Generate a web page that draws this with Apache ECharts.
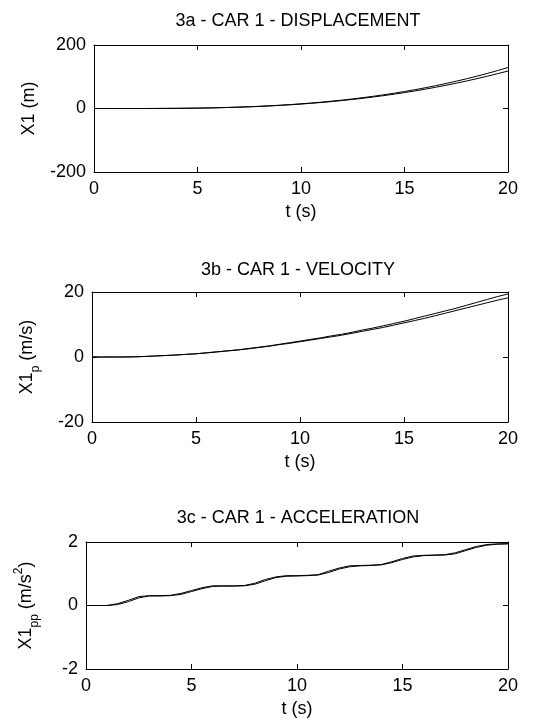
<!DOCTYPE html>
<html>
<head>
<meta charset="utf-8">
<script src="https://cdn.jsdelivr.net/npm/echarts@6/dist/echarts.min.js"></script>
<style>
  html, body { margin: 0; padding: 0; background: #fff; }
  #chart { width: 560px; height: 727px; }
</style>
</head>
<body>
<div id="chart"></div>
<script>
// time samples (s)
const tSec = [0, 0.5, 1, 1.5, 2, 2.5, 3, 3.5, 4, 4.5, 5, 5.5, 6, 6.5, 7, 7.5, 8, 8.5, 9, 9.5, 10,
  10.5, 11, 11.5, 12, 12.5, 13, 13.5, 14, 14.5, 15, 15.5, 16, 16.5, 17, 17.5, 18, 18.5, 19, 19.5, 20];

// 3a displacement (m), two traces
const dispA = [0, 0, 0, 0, 0, 0, 0.1, 0.3, 0.5, 0.8, 1.2, 1.8, 2.5, 3.4, 4.4, 5.6, 7.0, 8.6, 10.4, 12.5, 14.8,
  17.3, 20.1, 23.2, 26.6, 30.3, 34.3, 38.6, 43.2, 48.2, 53.5, 59.2, 65.3, 71.8, 78.7, 86.0, 93.7, 101.8, 110.4, 119.5, 129.0];
const dispB = [0, 0, 0, 0, 0, 0, 0.1, 0.3, 0.5, 0.8, 1.2, 1.7, 2.4, 3.2, 4.2, 5.3, 6.6, 8.1, 9.8, 11.8, 14.0,
  16.4, 19.0, 21.9, 25.1, 28.6, 32.3, 36.3, 40.6, 45.2, 50.1, 55.3, 60.9, 66.8, 73.1, 79.7, 86.7, 94.0, 101.7, 109.8, 118.0];

// 3b velocity (m/s), two traces
const velA = [0, 0, 0, 0, 0.05, 0.15, 0.3, 0.45, 0.6, 0.8, 1.0, 1.3, 1.6, 1.9, 2.2, 2.6, 3.0, 3.4, 3.9, 4.4, 4.9,
  5.4, 5.9, 6.5, 7.0, 7.6, 8.3, 8.9, 9.6, 10.3, 11.0, 11.8, 12.6, 13.4, 14.2, 15.0, 15.9, 16.8, 17.7, 18.6, 19.4];
const velB = [0, 0, 0, 0, 0.05, 0.15, 0.3, 0.45, 0.6, 0.8, 1.0, 1.25, 1.55, 1.85, 2.15, 2.5, 2.9, 3.3, 3.8, 4.2, 4.7,
  5.2, 5.7, 6.2, 6.7, 7.3, 7.9, 8.5, 9.1, 9.8, 10.5, 11.2, 11.9, 12.7, 13.5, 14.3, 15.1, 15.9, 16.7, 17.5, 18.2];

// 3c acceleration (m/s^2), two traces
const accA = [0, 0, 0, 0.06, 0.16, 0.28, 0.31, 0.31, 0.32, 0.38, 0.47, 0.56, 0.62, 0.62, 0.62, 0.63, 0.70, 0.82, 0.90, 0.94, 0.94,
  0.95, 0.97, 1.08, 1.18, 1.25, 1.26, 1.27, 1.29, 1.38, 1.48, 1.56, 1.58, 1.59, 1.60, 1.66, 1.76, 1.86, 1.92, 1.94, 1.95];
const accB = [0, 0, 0, 0.03, 0.12, 0.24, 0.30, 0.30, 0.31, 0.35, 0.44, 0.53, 0.60, 0.61, 0.61, 0.62, 0.67, 0.78, 0.88, 0.92, 0.93,
  0.94, 0.96, 1.04, 1.15, 1.22, 1.25, 1.26, 1.28, 1.35, 1.45, 1.53, 1.57, 1.58, 1.59, 1.63, 1.73, 1.83, 1.90, 1.93, 1.94];

const xTicks = [0, 5, 10, 15, 20];
const yTicksDisp = [-200, 0, 200];
const yTicksVel = [-20, 0, 20];
const yTicksAcc = [-2, 0, 2];

const titles = ['3a - CAR 1 - DISPLACEMENT', '3b - CAR 1 - VELOCITY', '3c - CAR 1 - ACCELERATION'];
const xName = 't (s)';

const FONT = '"Liberation Sans", Arial, sans-serif';
const FS = 18;

const grids = [
  { left: 94, top: 45, width: 414, height: 127 },
  { left: 92, top: 292, width: 416, height: 130 },
  { left: 86, top: 542, width: 422, height: 127 },
];
const titleTops = [12, 261, 509];
const yNameGaps = [56, 56, 51];
const yNames = [
  '{a|X1 (m)}',
  '{a|X1}{sub|p}{a| (m/s)}',
  '{a|X1}{sub|pp}{a| (m/s}{sup|2}{a|)}',
];
const yTicks = [yTicksDisp, yTicksVel, yTicksAcc];
const seriesData = [[dispA, dispB], [velA, velB], [accA, accB]];

const pairs = (ys) => tSec.map((t, i) => [t, ys[i]]);

const richName = {
  a: { fontSize: FS, fontFamily: FONT, color: '#000', lineHeight: 18 },
  sub: { fontSize: 12, fontFamily: FONT, color: '#000', lineHeight: 12, padding: [18, 0, 0, 0] },
  sup: { fontSize: 12, fontFamily: FONT, color: '#000', lineHeight: 12, padding: [2, 0, 16, 0] },
};

const axisLine = { show: true, onZero: false, lineStyle: { color: '#000', width: 1 } };
const tickIn = { show: true, inside: true, length: 5, lineStyle: { color: '#000' } };

const xAxes = [];
const yAxes = [];
const series = [];
grids.forEach((g, i) => {
  const xMin = xTicks[0], xMax = xTicks[xTicks.length - 1];
  const ys = yTicks[i];
  const yMin = ys[0], yMax = ys[ys.length - 1];
  // bottom x axis
  xAxes.push({
    gridIndex: i, type: 'value', position: 'bottom', min: xMin, max: xMax, interval: xTicks[1] - xTicks[0],
    axisLine, axisTick: tickIn, splitLine: { show: false },
    axisLabel: { color: '#000', fontSize: FS, fontFamily: FONT, margin: 8 },
    name: xName, nameLocation: 'middle', nameGap: 31,
    nameTextStyle: { color: '#000', fontSize: FS, fontFamily: FONT },
  });
  // top x axis (box)
  xAxes.push({
    gridIndex: i, type: 'value', position: 'top', min: xMin, max: xMax, interval: xTicks[1] - xTicks[0],
    axisLine, axisTick: tickIn, axisLabel: { show: false }, splitLine: { show: false },
  });
  // left y axis
  yAxes.push({
    gridIndex: i, type: 'value', position: 'left', min: yMin, max: yMax, interval: ys[1] - ys[0],
    axisLine, axisTick: tickIn, splitLine: { show: false },
    axisLabel: { color: '#000', fontSize: FS, fontFamily: FONT, margin: 8 },
    name: yNames[i], nameLocation: 'middle', nameRotate: 90, nameGap: yNameGaps[i],
    nameTextStyle: { rich: richName },
  });
  // right y axis (box)
  yAxes.push({
    gridIndex: i, type: 'value', position: 'right', min: yMin, max: yMax, interval: ys[1] - ys[0],
    axisLine, axisTick: tickIn, axisLabel: { show: false }, splitLine: { show: false },
  });
  seriesData[i].forEach((arr) => {
    series.push({
      type: 'line', xAxisIndex: i * 2, yAxisIndex: i * 2, data: pairs(arr),
      symbol: 'none', silent: true, animation: false,
      lineStyle: { color: '#000', width: 1 },
    });
  });
});

const chart = echarts.init(document.getElementById('chart'));
chart.setOption({
  backgroundColor: '#fff',
  animation: false,
  title: titles.map((t, i) => ({
    text: t, left: 298, top: titleTops[i], textAlign: 'center', padding: 0,
    textStyle: { color: '#000', fontSize: FS, fontWeight: 'normal', fontFamily: FONT },
  })),
  grid: grids.map((g) => ({ ...g, containLabel: false, outerBoundsMode: 'none' })),
  xAxis: xAxes,
  yAxis: yAxes,
  series,
});
</script>
</body>
</html>
